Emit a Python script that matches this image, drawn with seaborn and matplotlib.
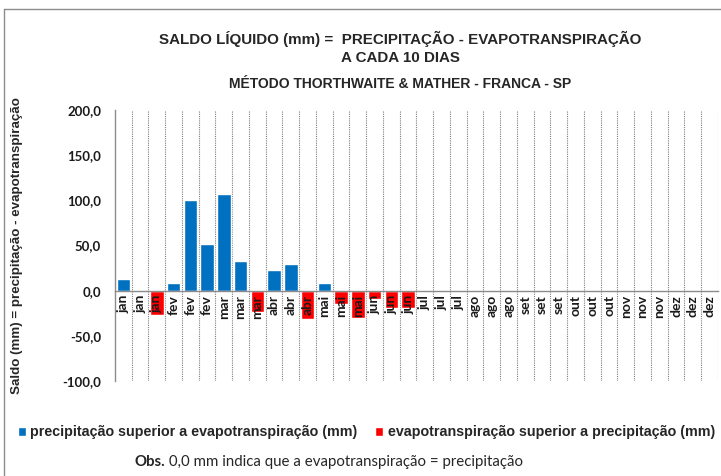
import numpy as np
import pandas as pd
import matplotlib
matplotlib.use('Agg')
import matplotlib.pyplot as plt
from matplotlib.patches import Patch
from matplotlib.ticker import FuncFormatter, MultipleLocator
import seaborn as sns

sns.set_style('white')
plt.rcParams['font.family'] = ['Liberation Sans', 'DejaVu Sans']

# Dados: saldo a cada 10 dias (3 decêndios por mês)
meses = ['jan', 'fev', 'mar', 'abr', 'mai', 'jun',
         'jul', 'ago', 'set', 'out', 'nov', 'dez']
rotulos = [m for m in meses for _ in range(3)]
saldo = [13.0, 1.0, -27.0,
         8.0, 100.0, 52.0,
         107.0, 32.5, -23.5,
         23.0, 30.0, -31.0,
         8.0, -15.0, -30.5,
         -9.5, -19.5, -19.0,
         0, 0, 0, 0, 0, 0, 0, 0, 0,
         0, 0, 0, 0, 0, 0, 0, 0, 0]
serie_pos = 'precipitação superior a evapotranspiração (mm)'
serie_neg = 'evapotranspiração superior a precipitação (mm)'

azul = '#0070C0'
vermelho = '#FF0000'
calibri = ['Lato', 'DejaVu Sans']

df = pd.DataFrame({'periodo': range(len(saldo)), 'saldo': saldo})
df['serie'] = np.where(df['saldo'] >= 0, serie_pos, serie_neg)

fig = plt.figure(figsize=(7.21, 4.76), dpi=100)
ax = fig.add_axes([0.1595, 0.1996, 0.8363, 0.5693])

# linhas verticais pontilhadas entre os decêndios (atrás das barras)
for xb in np.arange(0.5, len(saldo), 1.0):
    ax.axvline(xb, color='#7f7f7f', linestyle=(0, (1, 1)), linewidth=0.8, zorder=0)

sns.barplot(data=df, x='periodo', y='saldo', hue='serie',
            palette={serie_pos: azul, serie_neg: vermelho},
            dodge=False, width=0.8, saturation=1, legend=False, ax=ax, zorder=1)

ax.set_xlim(-0.5, len(saldo) - 0.5)
ax.set_ylim(-100, 200)
ax.yaxis.set_major_locator(MultipleLocator(50))
ax.yaxis.set_major_formatter(FuncFormatter(lambda v, p: f'{v:.1f}'.replace('.', ',')))
ax.grid(False)
ax.set_axisbelow(False)

# eixo das categorias cruzando no zero
ax.spines['bottom'].set_position(('data', 0))
for s in ['top', 'right']:
    ax.spines[s].set_visible(False)
for s in ['left', 'bottom']:
    ax.spines[s].set_color('#8c8c8c')
    ax.spines[s].set_linewidth(1.0)

ax.set_xticks(range(len(saldo)))
ax.set_xticklabels(rotulos, rotation=90, fontsize=10, fontweight='bold',
                   family=calibri, color='#1a1a1a')
ax.tick_params(axis='x', which='major', length=0, pad=3)
ax.tick_params(axis='y', which='major', direction='out', length=4,
               color='#8c8c8c', labelsize=9.5, pad=6)
for t in ax.get_yticklabels():
    t.set_fontweight('bold')
    t.set_family(calibri)
    t.set_color('#1a1a1a')

ax.set_xlabel('')
ax.set_ylabel('Saldo (mm) = precipitação - evapotranspiração',
              fontsize=9.6, fontweight='bold')
ax.yaxis.set_label_coords(-0.153, 0.5)

# títulos
fig.text(0.555, 0.918, 'SALDO LÍQUIDO (mm) =  PRECIPITAÇÃO - EVAPOTRANSPIRAÇÃO',
         ha='center', va='center', fontsize=10.9, fontweight='bold')
fig.text(0.555, 0.878, 'A CADA 10 DIAS', ha='center', va='center',
         fontsize=10.9, fontweight='bold')
fig.text(0.555, 0.823, 'MÉTODO THORTHWAITE & MATHER - FRANCA - SP',
         ha='center', va='center', fontsize=10, fontweight='bold')

# legenda
handles = [Patch(facecolor=azul, label=serie_pos),
           Patch(facecolor=vermelho, label=serie_neg)]
fig.legend(handles=handles, loc='center', bbox_to_anchor=(0.508, 0.092),
           ncol=2, frameon=False, handlelength=0.6,
           handleheight=0.6, handletextpad=0.3, columnspacing=1.2,
           prop={'weight': 'bold', 'size': 10.3})

# observação
fig.text(0.229, 0.03, 'Obs.', ha='right', va='center', fontsize=10.8,
         fontweight='bold', family=calibri)
fig.text(0.229, 0.03, ' 0,0 mm indica que a evapotranspiração = precipitação',
         ha='left', va='center', fontsize=10.8, family=calibri)

# moldura
fig.add_artist(plt.Line2D([4 / 721, 1.0], [1 - 9 / 476, 1 - 9 / 476],
                          transform=fig.transFigure, color='#8c8c8c', linewidth=1))
fig.add_artist(plt.Line2D([4 / 721, 4 / 721], [0, 1 - 9 / 476],
                          transform=fig.transFigure, color='#8c8c8c', linewidth=1))

fig.savefig('out.png', dpi=100)
